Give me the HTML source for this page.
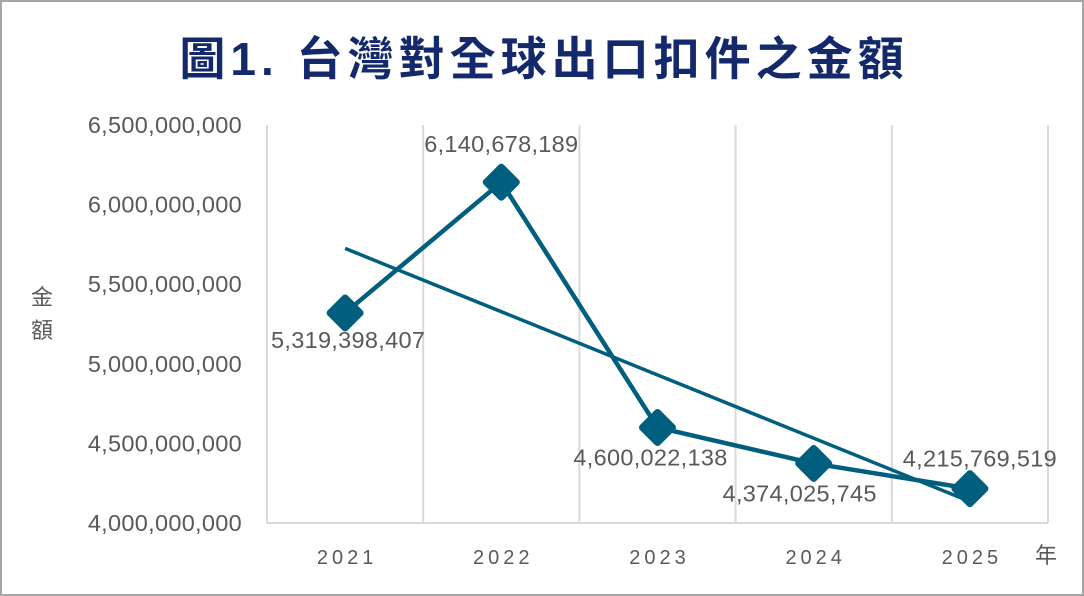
<!DOCTYPE html>
<html><head><meta charset="utf-8">
<style>
html,body{margin:0;padding:0;background:#fff;}
#wrap{position:relative;width:1084px;height:596px;box-sizing:border-box;border:2px solid #a6a6a6;background:#fff;overflow:hidden;}
#title{position:absolute;left:0;top:21px;width:1084px;text-align:center;font:bold 46px "Liberation Sans","Noto Sans CJK TC",sans-serif;color:#13296b;letter-spacing:5px;}
svg text{font-family:"Liberation Sans","Noto Sans CJK TC",sans-serif;fill:#595959;}
</style></head><body>
<div id="wrap">
<div id="title">圖1. 台灣對全球出口扣件之金額</div>
<svg id="chart" width="1084" height="596" style="position:absolute;left:-2px;top:-2px"></svg>
</div>
<script>
const categories=["2021","2022","2023","2024","2025"];
const values=[5319398407,6140678189,4600022138,4374025745,4215769519];
const yTicks=[4000000000,4500000000,5000000000,5500000000,6000000000,6500000000];
const yMin=4000000000,yMax=6500000000;
const L=267,R=1048,T=125,B=523;
const NS="http://www.w3.org/2000/svg";
const svg=document.getElementById('chart');
const bw=(R-L)/categories.length;
const xs=i=>L+bw*(i+0.5);
const ys=v=>B-(v-yMin)/(yMax-yMin)*(B-T);
function mk(t,a,p){const e=document.createElementNS(NS,t);for(const k in a)e.setAttribute(k,a[k]);(p||svg).appendChild(e);return e;}
const fmt=v=>v.toLocaleString('en-US');
for(let i=0;i<=categories.length;i++){
 const g=mk('line',{x1:L+bw*i,x2:L+bw*i,y1:T,y2:B,stroke:'#d9d9d9','stroke-width':2});
 
 
}
const ax=mk('line',{x1:L,x2:R,y1:B,y2:B,stroke:'#d9d9d9','stroke-width':2});


yTicks.forEach(v=>{
 const t=mk('text',{x:242,y:ys(v)+8,'text-anchor':'end','font-size':23.5,'letter-spacing':'0.3'});
 t.textContent=fmt(v);
 
 
});
categories.forEach((c,i)=>{
 const t=mk('text',{x:xs(i)+2,y:564,'text-anchor':'middle','font-size':20,'letter-spacing':'4'});
 t.textContent=c;
 
 
});
const yt=mk('text',{x:42,y:305,'text-anchor':'middle','font-size':22});yt.textContent='金';


const yt2=mk('text',{x:42,y:338,'text-anchor':'middle','font-size':22});yt2.textContent='額';


const xt=mk('text',{x:1035,y:563,'font-size':22});xt.textContent='年';


const n=values.length;let mx=(n-1)/2,my=values.reduce((a,b)=>a+b,0)/n,num=0,den=0;
values.forEach((v,i)=>{num+=(i-mx)*(v-my);den+=(i-mx)*(i-mx);});
const sl=num/den,ic=my-sl*mx;
const tr=mk('line',{x1:xs(0),y1:ys(ic),x2:xs(n-1),y2:ys(ic+sl*(n-1)),stroke:'#005f7f','stroke-width':3.5});


const ln=mk('polyline',{points:values.map((v,i)=>xs(i)+','+ys(v)).join(' '),fill:'none',stroke:'#005f7f','stroke-width':4.5,'stroke-linejoin':'round'});


const lblPos=[[3,27],[0,-38],[-7,30],[-14,30],[10,-30]];
values.forEach((v,i)=>{
 const x=xs(i),y=ys(v),s=15;
 const m=mk('path',{d:`M${x},${y-s}L${x+s},${y}L${x},${y+s}L${x-s},${y}Z`,fill:'#005f7f',stroke:'#005f7f','stroke-width':7,'stroke-linejoin':'round'});
 
 
 const t=mk('text',{x:x+lblPos[i][0],y:y+lblPos[i][1]+8,'text-anchor':'middle','font-size':23.5,'letter-spacing':'0.3'});
 t.textContent=fmt(v);
 
 
});
</script>
</body></html>
